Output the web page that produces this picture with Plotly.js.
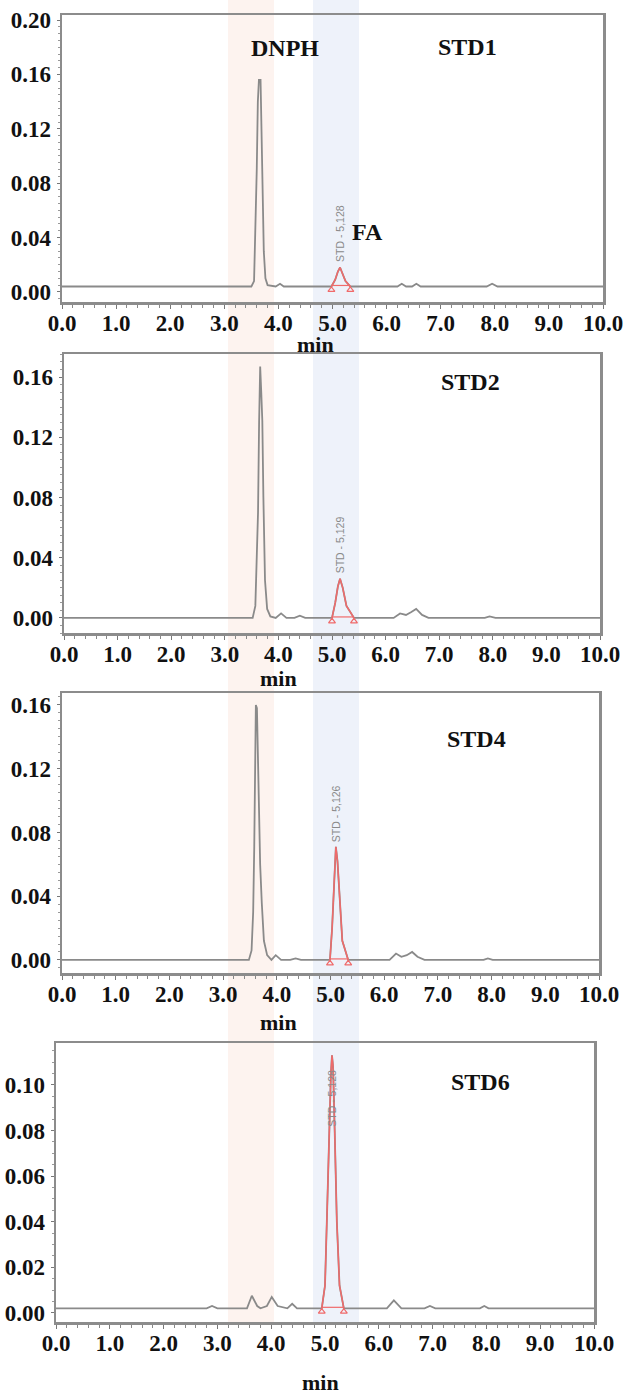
<!DOCTYPE html>
<html>
<head>
<meta charset="utf-8">
<script src="https://cdn.plot.ly/plotly-3.0.1.min.js"></script>
<style>html,body{margin:0;padding:0;background:#fff;}#chart{width:625px;height:1395px;}</style>
</head>
<body>
<div id="chart"></div>
<script>
// ---- Data (time in min, absorbance) ----
const panelNames = ["STD1", "STD2", "STD4", "STD6"];
const peakLabels = ["STD - 5,128", "STD - 5,129", "STD - 5,126", "STD - 5,128"];

const t1 = [0, 3.50, 3.55, 3.58, 3.60, 3.62, 3.64, 3.67, 3.69, 3.71, 3.73, 3.76, 3.80, 3.95, 4.03, 4.10, 4.98, 5.05, 5.10, 5.14, 5.18, 5.24, 5.33, 6.20, 6.28, 6.36, 6.47, 6.55, 6.63, 7.85, 7.95, 8.05, 10];
const a1 = [0.004, 0.004, 0.008, 0.050, 0.090, 0.140, 0.156, 0.156, 0.120, 0.080, 0.030, 0.010, 0.005, 0.004, 0.006, 0.004, 0.004, 0.009, 0.015, 0.018, 0.014, 0.008, 0.004, 0.004, 0.006, 0.004, 0.004, 0.006, 0.004, 0.004, 0.006, 0.004, 0.004];

const t2 = [0, 3.52, 3.57, 3.60, 3.62, 3.64, 3.66, 3.68, 3.70, 3.72, 3.75, 3.79, 3.85, 3.95, 4.05, 4.15, 4.30, 4.40, 4.50, 5.00, 5.06, 5.11, 5.15, 5.20, 5.27, 5.41, 6.15, 6.27, 6.38, 6.48, 6.57, 6.68, 6.80, 7.85, 7.94, 8.05, 10];
const a2 = [0, 0, 0.008, 0.040, 0.070, 0.130, 0.167, 0.150, 0.131, 0.080, 0.025, 0.006, 0.001, 0.000, 0.003, 0.000, 0.000, 0.0015, 0.000, 0.000, 0.010, 0.021, 0.026, 0.020, 0.008, 0.000, 0.000, 0.003, 0.002, 0.004, 0.006, 0.002, 0.000, 0.000, 0.001, 0.000, 0];

const t3 = [0, 3.48, 3.53, 3.56, 3.58, 3.60, 3.61, 3.63, 3.66, 3.69, 3.72, 3.76, 3.82, 3.90, 3.98, 4.08, 4.25, 4.35, 4.45, 4.99, 5.03, 5.07, 5.10, 5.13, 5.17, 5.22, 5.33, 6.10, 6.22, 6.32, 6.42, 6.52, 6.62, 6.75, 7.85, 7.93, 8.02, 10];
const a3 = [0, 0, 0.006, 0.030, 0.071, 0.130, 0.160, 0.158, 0.110, 0.060, 0.036, 0.012, 0.003, 0.000, 0.003, 0.000, 0.000, 0.001, 0.000, 0.000, 0.020, 0.050, 0.071, 0.062, 0.040, 0.012, 0.000, 0.000, 0.004, 0.002, 0.003, 0.005, 0.002, 0.000, 0.000, 0.001, 0.000, 0];

const t4 = [0, 2.80, 2.90, 3.00, 3.55, 3.64, 3.74, 3.80, 3.92, 4.01, 4.12, 4.30, 4.39, 4.48, 4.94, 5.00, 5.04, 5.08, 5.11, 5.13, 5.15, 5.18, 5.22, 5.27, 5.35, 6.15, 6.28, 6.42, 6.85, 6.95, 7.05, 7.88, 7.96, 8.04, 10];
const a4 = [0.002, 0.002, 0.003, 0.002, 0.002, 0.0075, 0.003, 0.002, 0.003, 0.007, 0.003, 0.002, 0.004, 0.002, 0.002, 0.012, 0.045, 0.085, 0.105, 0.113, 0.108, 0.080, 0.040, 0.012, 0.002, 0.002, 0.0055, 0.002, 0.002, 0.003, 0.002, 0.002, 0.003, 0.002, 0.002];

// FA integration windows (start, end) in min
const faStart = [4.98, 5.00, 4.99, 4.94];
const faEnd = [5.33, 5.41, 5.33, 5.35];

// y tick values
const yTicks1 = [0, 0.04, 0.08, 0.12, 0.16, 0.20];
const yTicks2 = [0, 0.04, 0.08, 0.12, 0.16];
const yTicks3 = [0, 0.04, 0.08, 0.12, 0.16];
const yTicks4 = [0, 0.02, 0.04, 0.06, 0.08, 0.10];
const xTicks = [0, 1, 2, 3, 4, 5, 6, 7, 8, 9, 10];

// ---- Layout geometry (pixels) ----
const W = 625, H = 1395;
const px = x => x / W;
const py = y => 1 - y / H;
const panels = [
  {t: t1, a: a1, yt: yTicks1, box: [62, 603, 15, 302], yr: [-0.0074, 0.2037], labY: null, title: [467, 47], minPos: [315, 344]},
  {t: t2, a: a2, yt: yTicks2, box: [64, 600, 354, 633], yr: [-0.0100, 0.1753], labY: null, title: [470, 382], minPos: [278, 678]},
  {t: t3, a: a3, yt: yTicks3, box: [62, 599, 693, 973], yr: [-0.0082, 0.1675], labY: null, title: [476, 739], minPos: [278, 1022]},
  {t: t4, a: a4, yt: yTicks4, box: [56, 594, 1043, 1322], yr: [-0.0040, 0.1184], labY: 0.081, title: [481, 1082], minPos: [320, 1382]}
];

const serif = {family: "Liberation Serif", color: "#111", weight: "bold"};
const traces = [];
const annotations = [];
const layout = {
  width: W, height: H,
  margin: {l: 0, r: 0, t: 0, b: 0},
  paper_bgcolor: "#fff", plot_bgcolor: "rgba(0,0,0,0)",
  showlegend: false,
  shapes: [
    {type: "rect", xref: "paper", yref: "paper", x0: px(228), x1: px(274), y0: py(1322), y1: 1,
     fillcolor: "rgba(250,222,210,0.35)", line: {width: 0}, layer: "below"},
    {type: "rect", xref: "paper", yref: "paper", x0: px(313), x1: px(359), y0: py(1322), y1: 1,
     fillcolor: "rgba(205,218,240,0.35)", line: {width: 0}, layer: "below"}
  ],
  annotations: annotations
};

panels.forEach((p, i) => {
  const k = i + 1;
  const xa = "x" + (k === 1 ? "" : k), ya = "y" + (k === 1 ? "" : k);
  const span = p.yr[1] - p.yr[0];
  layout["xaxis" + (k === 1 ? "" : k)] = {
    domain: [px(p.box[0]), px(p.box[1])], anchor: ya, range: [0, 10],
    tickvals: xTicks, tickformat: ".1f", ticks: "outside", ticklen: 4, tickcolor: "#777",
    minor: {dtick: 0.2, ticks: "outside", ticklen: 3, tickcolor: "#888"},
    showline: true, mirror: true, linecolor: "#8c8c8c", linewidth: 2.5,
    showgrid: false, zeroline: false, fixedrange: true,
    tickfont: Object.assign({size: 23}, serif), ticklabelstandoff: -5
  };
  layout["yaxis" + (k === 1 ? "" : k)] = {
    domain: [py(p.box[3]), py(p.box[2])], anchor: xa, range: p.yr,
    tickvals: p.yt, tickformat: ".2f", ticks: "outside", ticklen: 3, tickcolor: "#777",
    minor: {nticks: 10, ticks: "outside", ticklen: 2, tickcolor: "#999"},
    showline: true, mirror: true, linecolor: "#8c8c8c", linewidth: 2.5,
    showgrid: false, zeroline: false, fixedrange: true,
    tickfont: Object.assign({size: 23}, serif), ticklabelstandoff: 1
  };
  // gray chromatogram
  traces.push({x: p.t, y: p.a, xaxis: xa, yaxis: ya, type: "scatter", mode: "lines",
    line: {color: "#8a8a8a", width: 1.8}, hoverinfo: "skip"});
  // red FA peak
  const rx = [], ry = [];
  p.t.forEach((tv, j) => { if (tv >= faStart[i] && tv <= faEnd[i]) { rx.push(tv); ry.push(p.a[j]); } });
  traces.push({x: rx, y: ry, xaxis: xa, yaxis: ya, type: "scatter", mode: "lines",
    line: {color: "#f06a6a", width: 1.5}, hoverinfo: "skip"});
  // integration baseline with end markers
  const bOff = span * 0.012;
  traces.push({x: [rx[0], rx[rx.length - 1]], y: [ry[0] + bOff * 0.3, ry[ry.length - 1] + bOff * 0.3],
    xaxis: xa, yaxis: ya, type: "scatter", mode: "lines", line: {color: "#f06a6a", width: 1.2}, hoverinfo: "skip"});
  traces.push({x: [rx[0], rx[rx.length - 1]], y: [ry[0] - bOff, ry[ry.length - 1] - bOff],
    xaxis: xa, yaxis: ya, type: "scatter", mode: "markers",
    marker: {symbol: "triangle-up-open", size: 6, color: "#f06a6a", line: {width: 1.2, color: "#f06a6a"}}, hoverinfo: "skip"});
  // apex
  let am = 0;
  rx.forEach((v, j) => { if (ry[j] > ry[am]) am = j; });
  annotations.push({x: rx[am], y: p.labY !== null ? p.labY : ry[am], xref: xa, yref: ya,
    text: peakLabels[i], textangle: -90, showarrow: false, xanchor: "center", yanchor: "bottom",
    yshift: p.labY !== null ? 0 : 3, font: {family: "Liberation Sans, Arial, sans-serif", size: 10.5, color: "#8a8a8a"}});
  // panel title
  annotations.push({x: px(p.title[0]), y: py(p.title[1]), xref: "paper", yref: "paper",
    text: panelNames[i], showarrow: false, xanchor: "center", yanchor: "middle",
    font: Object.assign({size: 24}, serif)});
  // x-axis title "min"
  annotations.push({x: px(p.minPos[0]), y: py(p.minPos[1]), xref: "paper", yref: "paper",
    text: "min", showarrow: false, xanchor: "center", yanchor: "middle",
    font: Object.assign({size: 22}, serif)});
});

annotations.push({x: px(285), y: py(48), xref: "paper", yref: "paper", text: "DNPH", showarrow: false,
  xanchor: "center", yanchor: "middle", font: Object.assign({size: 24}, serif)});
annotations.push({x: px(367), y: py(232), xref: "paper", yref: "paper", text: "FA", showarrow: false,
  xanchor: "center", yanchor: "middle", font: Object.assign({size: 24}, serif)});

Plotly.newPlot("chart", traces, layout, {staticPlot: true, displayModeBar: false});
</script>
</body>
</html>
